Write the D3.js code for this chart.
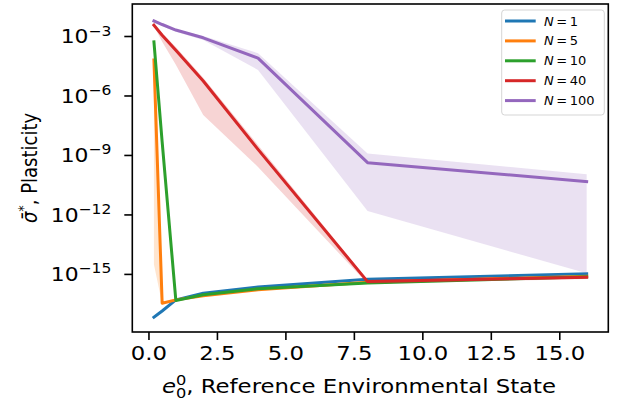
<!DOCTYPE html>
<html><head><meta charset="utf-8">
<script src="https://cdn.jsdelivr.net/npm/d3@7"></script>
<style>body{margin:0;background:#fff}svg{display:block}text{font-family:"DejaVu Sans",sans-serif;fill:#000}</style>
</head><body><svg id="c" width="623" height="410"></svg>
<script>
const xs = [0.2, 0.5, 1, 2, 4, 8, 16];
const seriesNames = ["1", "5", "10", "40", "100"];
const colors = ["#1f77b4", "#ff7f0e", "#2ca02c", "#d62728", "#9467bd"];
const meanN1   = [6.5e-18, 1.35e-17, 4.9e-17, 1.05e-16, 2.2e-16, 5.4e-16, 1.0e-15];
const upperN1  = [7.0e-18, 1.45e-17, 5.2e-17, 1.1e-16, 2.3e-16, 5.7e-16, 1.05e-15];
const lowerN1  = [6.0e-18, 1.25e-17, 4.6e-17, 1.0e-16, 2.1e-16, 5.1e-16, 0.95e-15];
const meanN5   = [6.2e-5, 3.3e-17, 4.9e-17, 7.9e-17, 1.6e-16, 3.8e-16, 7.6e-16];
const upperN5  = [1.0e-4, 3.5e-17, 5.2e-17, 8.3e-17, 1.7e-16, 4.0e-16, 8.0e-16];
const lowerN5  = [3.0e-15, 3.1e-17, 4.6e-17, 7.5e-17, 1.5e-16, 3.6e-16, 7.2e-16];
const meanN10  = [5.1e-4, 4.6e-9, 4.6e-17, 8.9e-17, 1.8e-16, 3.5e-16, 7.1e-16];
const upperN10 = [8.0e-4, 6.0e-9, 4.9e-17, 9.3e-17, 1.9e-16, 3.7e-16, 7.5e-16];
const lowerN10 = [3.5e-4, 3.5e-9, 4.3e-17, 8.5e-17, 1.7e-16, 3.3e-16, 6.7e-16];
const meanN40  = [3.5e-3, 1.1e-3, 1.9e-4, 5.4e-6, 1.9e-9, 4.1e-16, 6.8e-16];
const upperN40 = [4.0e-3, 1.4e-3, 2.8e-4, 7.9e-6, 3.2e-9, 5.0e-16, 7.9e-16];
const lowerN40 = [3.2e-3, 5.2e-4, 3.5e-5, 1.05e-7, 2.5e-10, 3.2e-16, 5.6e-16];
const meanN100 = [5.8e-3, 3.8e-3, 2.0e-3, 8.1e-4, 7.6e-5, 4.1e-10, 4.5e-11];
const upperN100= [6.3e-3, 4.2e-3, 2.2e-3, 1.0e-3, 1.35e-4, 1.2e-9, 1.05e-10];
const lowerN100= [5.2e-3, 3.4e-3, 1.65e-3, 6.3e-4, 1.95e-5, 1.5e-12, 1.07e-15];
const xTicks = [0, 2.5, 5, 7.5, 10, 12.5, 15];
const yTickExps = [-3, -6, -9, -12, -15];

const means = [meanN1, meanN5, meanN10, meanN40, meanN100];
const uppers = [upperN1, upperN5, upperN10, upperN40, upperN100];
const lowers = [lowerN1, lowerN5, lowerN10, lowerN40, lowerN100];

const L = 132.3, R = 608.3, T = 4, B = 332;
const SX = 1.2, FS = 19;
const svg = d3.select("#c");
const x = d3.scaleLinear().domain([-0.59, 16.79]).range([L, R]);
const y = d3.scaleLog().domain([Math.pow(10, -17.93), Math.pow(10, -1.386)]).range([B, T]);

const g = svg.append("g");
const area = d3.area().x((d,i)=>x(xs[i])).y0(d=>y(d[0])).y1(d=>y(d[1]));
const line = d3.line().x((d,i)=>x(xs[i])).y(d=>y(d));

means.forEach((m, k) => {
  const band = xs.map((_, i) => [lowers[k][i], uppers[k][i]]);
  g.append("path").attr("d", area(band)).attr("fill", colors[k]).attr("fill-opacity", 0.2).attr("stroke","none");
  g.append("path").attr("d", line(m)).attr("fill","none").attr("stroke", colors[k])
    .attr("stroke-width", 3).attr("stroke-linejoin","round").attr("stroke-linecap","square");
});

// frame
svg.append("rect").attr("x", L).attr("y", T).attr("width", R-L).attr("height", B-T)
  .attr("fill","none").attr("stroke","#000").attr("stroke-width",1.6);

// x axis
const xa = svg.append("g").attr("transform", `translate(0,${B})`)
  .call(d3.axisBottom(x).tickValues(xTicks).tickFormat("").tickSize(8));
xa.select(".domain").remove();
xa.selectAll("line").attr("stroke-width",1.6);
xa.selectAll(".tick").each(function(d){
  d3.select(this).append("g").attr("transform", `translate(0,28) scale(${SX},1)`)
    .append("text").attr("text-anchor","middle").attr("font-size",FS).text(d3.format(".1f")(d));
});

// y axis
const ya = svg.append("g").attr("transform", `translate(${L},0)`)
  .call(d3.axisLeft(y).tickValues(yTickExps.map(e=>Math.pow(10,e))).tickFormat("").tickSize(8));
ya.select(".domain").remove();
ya.selectAll("line").attr("stroke-width",1.6);
ya.selectAll(".tick").each(function(d){
  const e = Math.round(Math.log10(d));
  const t = d3.select(this).append("g").attr("transform", `translate(-21,7) scale(1.15,1)`)
    .append("text").attr("text-anchor","end").attr("font-size",FS);
  t.append("tspan").text("10");
  t.append("tspan").attr("font-size",13.5).attr("dy",-8).text("\u2212" + Math.abs(e));
});

// x label
const xl = svg.append("g").attr("transform", `translate(359,393) scale(${SX},1)`)
  .append("text").attr("text-anchor","middle").attr("font-size",FS);
xl.append("tspan").attr("font-style","italic").text("e");
xl.append("tspan").attr("font-size",13.5).attr("dy",-8).text("0");
xl.append("tspan").attr("font-size",13.5).attr("dx",-8.6).attr("dy",13).text("0");
xl.append("tspan").attr("dy",-5).text(", Reference Environmental State");

// y label
const yl = svg.append("g").attr("transform", `translate(37,${(T+B)/2}) scale(1.15,1) rotate(-90)`)
  .append("text").attr("text-anchor","middle").attr("font-size",18);
yl.append("tspan").attr("font-style","italic").text("\u03c3\u0304");
yl.append("tspan").attr("font-size",13).attr("dy",-8).text("*");
yl.append("tspan").attr("dy",8).text(", Plasticity");

// legend
const lg = svg.append("g");
lg.append("rect").attr("x",501.7).attr("y",10).attr("width",102.6).attr("height",105).attr("rx",3)
  .attr("fill","#fff").attr("fill-opacity",0.8).attr("stroke","#d5d5d5").attr("stroke-width",1);
seriesNames.forEach((n,i)=>{
  const yy = 21 + i*19.9;
  lg.append("line").attr("x1",505).attr("x2",535.7).attr("y1",yy).attr("y2",yy).attr("stroke",colors[i]).attr("stroke-width",3);
  const t = lg.append("text").attr("x",544).attr("y",yy).attr("dy","0.35em").attr("font-size",13);
  t.append("tspan").attr("font-style","italic").text("N");
  t.append("tspan").text("\u2009=\u2009" + n);
});
</script></body></html>
